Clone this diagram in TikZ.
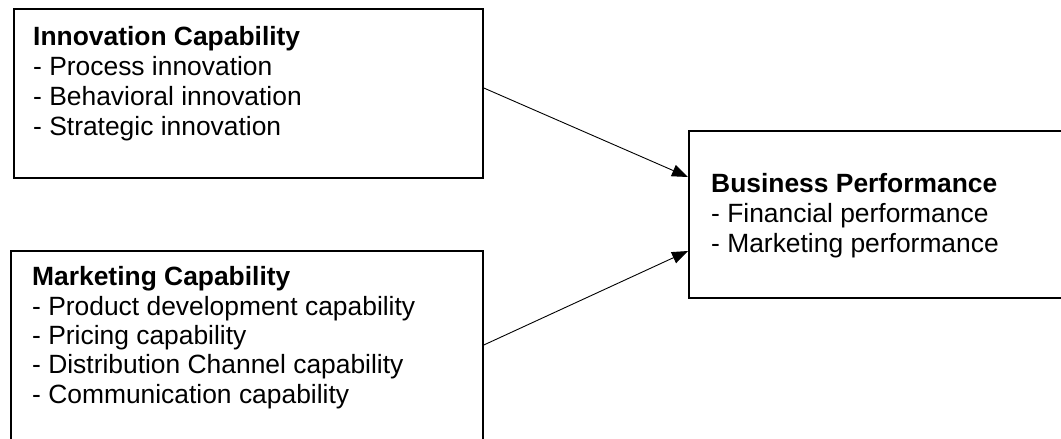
\documentclass[tikz,border=0pt]{standalone}
\usepackage{fontspec}
\setmainfont{Liberation Sans}
\usetikzlibrary{arrows.meta}

\tikzset{
  framebox/.style={draw=black, line width=1.8pt, rectangle, inner sep=0pt, anchor=north west},
  % the base anchor of a multi-line node sits on its last line
  boxtext/.style={anchor=base west, inner sep=0pt, align=left, text=black},
  link/.style={draw=black, line width=0.9pt, -{Triangle[length=16pt,width=12pt]}},
}

\begin{document}
\begin{tikzpicture}[x=1pt, y=-1pt]
  % page area
  \clip (0,0) rectangle (1061,439);
  \fill[white] (0,0) rectangle (1061,439);

  % boxes
  \node[framebox, minimum width=469pt, minimum height=169pt] (innov) at (13,8) {};
  \node[framebox, minimum width=472pt, minimum height=200pt] (market) at (10,250) {};
  \node[framebox, minimum width=390pt, minimum height=167pt] (perf) at (688,130) {};

  % box contents
  \node[boxtext, font={\fontsize{26.4}{30}\selectfont}] (innovtxt) at (33,135)
    {\textbf{Innovation Capability}\\- Process innovation\\- Behavioral innovation\\- Strategic innovation};
  \node[boxtext, font={\fontsize{26.4}{29.3}\selectfont}] (markettxt) at (32,403)
    {\textbf{Marketing Capability}\\- Product development capability\\- Pricing capability\\- Distribution Channel capability\\- Communication capability};
  \node[boxtext, font={\fontsize{26.4}{30}\selectfont}] (perftxt) at (711,252)
    {\textbf{Business Performance}\\- Financial performance\\- Marketing performance};

  % connector end points on the box borders
  \coordinate (innovout) at (innov.east |- 0,88);
  \coordinate (marketout) at (market.east |- 0,345);
  \coordinate (perfin1) at (perf.west |- 0,177);
  \coordinate (perfin2) at (perf.west |- 0,251);

  % connectors
  \draw[link] (innovout) -- (perfin1);
  \draw[link] (marketout) -- (perfin2);
\end{tikzpicture}
\end{document}
